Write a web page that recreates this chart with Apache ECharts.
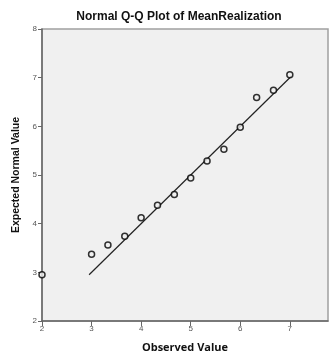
<!DOCTYPE html>
<html>
<head>
<meta charset="utf-8">
<script src="https://cdn.jsdelivr.net/npm/echarts@6/dist/echarts.min.js"></script>
<style>html,body{margin:0;padding:0;background:#fff;}#c{width:329px;height:358px;}</style>
</head>
<body>
<div id="c"></div>
<script>
var observed = [2, 3, 3.33, 3.67, 4, 4.33, 4.67, 5, 5.33, 5.67, 6, 6.33, 6.67, 7];
var expected = [2.95, 3.37, 3.56, 3.74, 4.12, 4.38, 4.60, 4.94, 5.29, 5.53, 5.98, 6.59, 6.74, 7.06];
var lineX = [2.95, 7.03];
var lineY = [2.95, 7.03];
var xTicks = [2, 3, 4, 5, 6, 7];
var yTicks = [2, 3, 4, 5, 6, 7, 8];

var pts = observed.map(function (v, i) { return [v, expected[i]]; });
var linePts = lineX.map(function (v, i) { return [v, lineY[i]]; });

var chart = echarts.init(document.getElementById('c'));
var labelFont = { fontFamily: 'Liberation Sans', fontSize: 8, color: '#555' };
chart.setOption({
  animation: false,
  title: {
    text: 'Normal Q-Q Plot of MeanRealization',
    left: 174, top: 6, textAlign: 'center',
    textStyle: { fontFamily: 'Liberation Sans', fontSize: 12, fontWeight: 'bold', color: '#111' }
  },
  grid: {
    left: 42, top: 29, right: 1, bottom: 31,
    show: true, backgroundColor: '#f0f0f0', borderColor: '#a0a0a0', borderWidth: 1.5
  },
  xAxis: {
    type: 'value', min: 2, max: 7.77, interval: 1,
    name: 'Observed Value', nameLocation: 'middle', nameGap: 21,
    nameTextStyle: { fontFamily: 'Open Sans', fontSize: 11, fontWeight: 'bold', color: '#111' },
    splitLine: { show: false },
    axisLine: { lineStyle: { color: '#666', width: 1.5 } },
    axisTick: { customValues: xTicks, length: 5, lineStyle: { color: '#666' } },
    axisLabel: Object.assign({ customValues: xTicks, margin: 4 }, labelFont)
  },
  yAxis: {
    type: 'value', min: 2, max: 8, interval: 1,
    name: 'Expected Normal Value', nameLocation: 'middle', nameGap: 17,
    nameTextStyle: { fontFamily: 'Liberation Sans', fontSize: 10.5, fontWeight: 'bold', color: '#111' },
    splitLine: { show: false },
    axisLine: { lineStyle: { color: '#666', width: 1.5 } },
    axisTick: { customValues: yTicks, length: 4, lineStyle: { color: '#666' } },
    axisLabel: Object.assign({ customValues: yTicks, margin: 5 }, labelFont)
  },
  series: [
    {
      type: 'line', data: linePts, symbol: 'none',
      lineStyle: { color: '#222', width: 1.2 }, z: 2
    },
    {
      type: 'scatter', data: pts, symbol: 'circle', symbolSize: 6,
      itemStyle: { color: '#f0f0f0', borderColor: '#000', borderWidth: 1.5 }, z: 3
    }
  ]
});
</script>
</body>
</html>
